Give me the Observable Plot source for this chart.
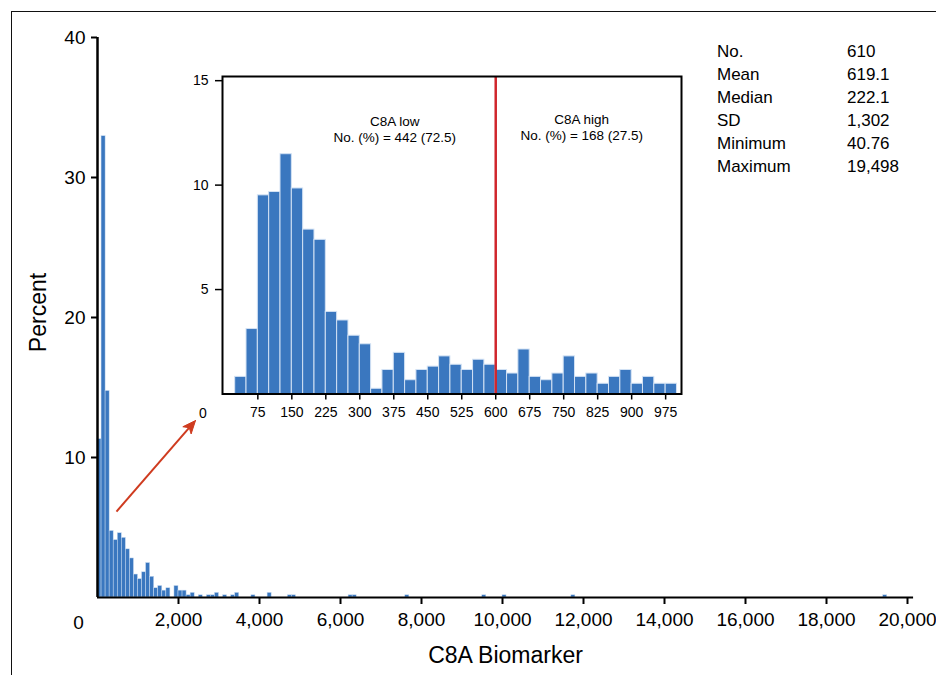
<!DOCTYPE html>
<html><head><meta charset="utf-8">
<script src="https://cdn.jsdelivr.net/npm/d3@7"></script>
<script src="https://cdn.jsdelivr.net/npm/@observablehq/plot@0.6"></script>
<style>
html,body{margin:0;padding:0;background:#fff;}
#chart{position:relative;width:936px;height:675px;overflow:hidden;font-family:"Liberation Sans",Arial,sans-serif;color:#000;}
#chart svg{position:absolute;}
.border{position:absolute;left:10.5px;top:11px;width:940px;height:680px;border-top:1.5px solid #111;border-left:1.5px solid #111;}
.stats{position:absolute;left:717px;top:40px;font-size:17px;line-height:23.1px;display:grid;grid-template-columns:130px auto;}
</style></head><body><div id="chart"><div class="border"></div></div>
<script>
// ---- main histogram (bin width 100) ----
const mainBinStart = [0,100,200,300,400,500,600,700,800,900,1000,1100,1200,1300,1400,1500,1600,1700,
  1900,2000,2100,2200,2300,2500,2700,2800,2900,3100,3300,3400,3800,4200,4700,4800,6200,6300,7600,9500,10000,11700,19400];
const mainPercent = [11.31,32.95,14.75,4.75,4.10,4.59,4.26,3.44,2.79,1.64,1.31,1.80,2.46,1.48,0.66,0.82,0.49,0.66,
  0.82,0.49,0.49,0.16,0.33,0.16,0.16,0.16,0.33,0.16,0.16,0.33,0.16,0.33,0.16,0.16,0.16,0.16,0.16,0.16,0.16,0.16,0.16];
const mainBinWidth = 100;
const mainXTicks = [2000,4000,6000,8000,10000,12000,14000,16000,18000,20000];
const mainYTicks = [10,20,30,40];

// ---- inset histogram (bin width 25) ----
const insetBinStart = [25,50,75,100,125,150,175,200,225,250,275,300,325,350,375,400,425,450,475,
  500,525,550,575,600,625,650,675,700,725,750,775,800,825,850,875,900,925,950,975];
const insetPercent = [0.82,3.11,9.51,9.67,11.48,9.84,7.87,7.38,3.93,3.52,2.79,2.38,0.25,1.15,1.97,0.66,1.15,1.31,1.80,
  1.40,1.15,1.64,1.40,1.15,0.98,2.13,0.82,0.66,0.98,1.80,0.82,0.98,0.49,0.82,1.15,0.49,0.82,0.49,0.49];
const insetBinWidth = 25;
const insetXTicks = [75,150,225,300,375,450,525,600,675,750,825,900,975];
const insetYTicks = [5,10,15];
const cutoff = 600;
const groupNames = ["C8A low","C8A high"];
const groupN = [442,168];
const groupPct = ["72.5","27.5"];

// ---- summary statistics ----
const statNames = ["No.","Mean","Median","SD","Minimum","Maximum"];
const statValues = ["610","619.1","222.1","1,302","40.76","19,498"];

// ---- pointer arrow (data units of the main chart: value, percent) ----
const arrowFrom = {x: 469, y: 6.14};
const arrowTo = {x: 2420, y: 12.64};

const BLUE = "#3a77bf";
const RED_ARROW = "#cf3b1f";
const RED_LINE = "#d0262d";
const FONT = "Liberation Sans, Arial, sans-serif";

const mainData = mainBinStart.map((s, i) => ({start: s, pct: mainPercent[i]}));
const insetData = insetBinStart.map((s, i) => ({start: s, pct: insetPercent[i]}));

// main geometry
const W = 936, H = 675, mL = 97, mR = 29, mT = 37, mB = 78;
const xDom = [0, 20000], yDom = [0, 40];
const sx = d3.scaleLinear(xDom, [mL, W - mR]);
const sy = d3.scaleLinear(yDom, [H - mB, mT]);

// arrowhead polygon derived from the arrow endpoints
const p0 = [sx(arrowFrom.x), sy(arrowFrom.y)], p1 = [sx(arrowTo.x), sy(arrowTo.y)];
const len = Math.hypot(p1[0]-p0[0], p1[1]-p0[1]);
const u = [(p1[0]-p0[0])/len, (p1[1]-p0[1])/len], n = [-u[1], u[0]];
const HL = 13, HW = 5.5, NOTCH = 3.5;
const headPx = [
  p1,
  [p1[0]-HL*u[0]+HW*n[0], p1[1]-HL*u[1]+HW*n[1]],
  [p1[0]-(HL-NOTCH)*u[0], p1[1]-(HL-NOTCH)*u[1]],
  [p1[0]-HL*u[0]-HW*n[0], p1[1]-HL*u[1]-HW*n[1]],
  p1
];
const head = headPx.map(([a, b]) => ({x: sx.invert(a), y: sy.invert(b)}));
const shaftEnd = head[2];

const main = Plot.plot({
  width: W, height: H,
  marginLeft: mL, marginRight: mR, marginTop: mT, marginBottom: mB,
  x: {domain: xDom}, y: {domain: yDom},
  style: {fontFamily: FONT, fontSize: "19px", color: "#000", background: "transparent", overflow: "visible"},
  marks: [
    Plot.rectY(mainData, {x1: "start", x2: d => d.start + mainBinWidth, y: "pct", fill: BLUE, stroke: "#c9dcf1", strokeWidth: 0.5}),
    Plot.ruleY([0], {x1: 0, x2: 20150, stroke: "#000", strokeWidth: 2}),
    Plot.ruleX([0], {y1: 0, y2: 40, stroke: "#000", strokeWidth: 2.5}),
    Plot.axisX({ticks: mainXTicks, tickSize: 7, tickPadding: 8, strokeWidth: 2, tickFormat: d3.format(","), label: null}),
    Plot.axisY({ticks: mainYTicks, tickSize: 6, tickPadding: 6, strokeWidth: 2, label: null}),
    Plot.text([0], {x: 0, y: 0, text: d => String(d), dx: -19, dy: 25}),
    Plot.text(["Percent"], {frameAnchor: "left", textAnchor: "middle", lineAnchor: "middle", dx: -59, dy: -5, rotate: -90, fontSize: 23}),
    Plot.text(["C8A Biomarker"], {frameAnchor: "bottom", textAnchor: "middle", lineAnchor: "middle", dx: 3, dy: 58, fontSize: 23}),
    Plot.link([{a: arrowFrom, b: shaftEnd}], {x1: d => d.a.x, y1: d => d.a.y, x2: d => d.b.x, y2: d => d.b.y, stroke: RED_ARROW, strokeWidth: 2}),
    Plot.line(head, {x: "x", y: "y", fill: RED_ARROW, stroke: RED_ARROW, strokeWidth: 1})
  ]
});
main.style.left = "0px"; main.style.top = "0px";

const inset = Plot.plot({
  width: 520, height: 375,
  marginLeft: 42, marginRight: 19, marginTop: 16, marginBottom: 41.5,
  x: {domain: [-3, 1010]}, y: {domain: [0, 15.2]},
  style: {fontFamily: FONT, fontSize: "14px", color: "#000", background: "transparent", overflow: "visible"},
  marks: [
    Plot.rectY(insetData, {x1: "start", x2: d => d.start + insetBinWidth, y: "pct", fill: BLUE, stroke: "#d3e2f4", strokeWidth: 1}),
    Plot.ruleX([cutoff], {stroke: RED_LINE, strokeWidth: 2.5}),
    Plot.frame({stroke: "#000", strokeWidth: 2}),
    Plot.axisX({ticks: insetXTicks, tickSize: 6, tickPadding: 7, strokeWidth: 1.5, label: null}),
    Plot.axisY({ticks: insetYTicks, tickSize: 7, tickPadding: 7, strokeWidth: 1.5, label: null}),
    Plot.text([0], {x: 0, y: 0, text: d => String(d), dx: -21, dy: 20}),
    Plot.text([0], {x: cutoff, frameAnchor: "top", lineAnchor: "middle", textAnchor: "middle", dx: -101, dy: 52, lineHeight: 1.22, fontSize: 13.5,
      text: i => `${groupNames[i]}\nNo. (%) = ${groupN[i]} (${groupPct[i]})`}),
    Plot.text([1], {x: cutoff, frameAnchor: "top", lineAnchor: "middle", textAnchor: "middle", dx: 86, dy: 50, lineHeight: 1.18, fontSize: 13.5,
      text: i => `${groupNames[i]}\nNo. (%) = ${groupN[i]} (${groupPct[i]})`})
  ]
});
inset.style.left = "180px"; inset.style.top = "60px";

const chart = document.getElementById("chart");
chart.appendChild(main);
chart.appendChild(inset);

const stats = document.createElement("div");
stats.className = "stats";
statNames.forEach((name, i) => {
  const a = document.createElement("div"); a.textContent = name;
  const b = document.createElement("div"); b.textContent = statValues[i];
  stats.appendChild(a); stats.appendChild(b);
});
chart.appendChild(stats);
</script>
</body></html>
